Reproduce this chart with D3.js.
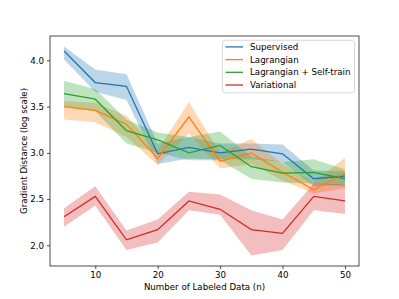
<!DOCTYPE html>
<html>
<head>
<meta charset="utf-8">
<script src="https://cdn.jsdelivr.net/npm/d3@7"></script>
<style>
  body { margin: 0; background: #fff; }
  svg { display: block; font-family: "DejaVu Sans", sans-serif; }
</style>
</head>
<body>
<svg id="chart" width="399" height="299"></svg>
<script>
// data
const nLabeled = [5, 10, 15, 20, 25, 30, 35, 40, 45, 50];

const supervised   = [4.10, 3.76, 3.72, 2.99, 3.06, 3.00, 3.04, 2.99, 2.72, 2.75];
const supervisedLo = [4.01, 3.66, 3.57, 2.88, 2.94, 2.93, 2.93, 2.90, 2.64, 2.66];
const supervisedHi = [4.15, 3.90, 3.85, 3.10, 3.17, 3.10, 3.10, 3.09, 2.81, 2.80];

const lagrangian   = [3.50, 3.46, 3.31, 2.94, 3.39, 2.91, 3.00, 2.79, 2.60, 2.78];
const lagrangianLo = [3.36, 3.33, 3.17, 2.87, 3.21, 2.83, 2.88, 2.70, 2.56, 2.62];
const lagrangianHi = [3.56, 3.54, 3.40, 3.03, 3.55, 3.00, 3.15, 2.88, 2.68, 2.95];

const selfTrain    = [3.64, 3.58, 3.24, 3.14, 3.00, 3.08, 2.85, 2.78, 2.79, 2.72];
const selfTrainLo  = [3.50, 3.45, 3.10, 3.00, 2.92, 2.92, 2.72, 2.68, 2.67, 2.64];
const selfTrainHi  = [3.78, 3.69, 3.36, 3.22, 3.17, 3.23, 2.96, 2.90, 2.93, 2.82];

const variational   = [2.31, 2.53, 2.06, 2.17, 2.48, 2.39, 2.17, 2.13, 2.53, 2.48];
const variationalLo = [2.20, 2.43, 1.95, 2.03, 2.38, 2.33, 1.89, 1.95, 2.38, 2.34];
const variationalHi = [2.40, 2.64, 2.16, 2.28, 2.58, 2.55, 2.38, 2.28, 2.67, 2.66];

const seriesNames = ["Supervised", "Lagrangian", "Lagrangian + Self-train", "Variational"];
const xTicks = [10, 20, 30, 40, 50];
const yTicks = [2.0, 2.5, 3.0, 3.5, 4.0];

const series = [
    {name: seriesNames[0], mid: supervised,  lo: supervisedLo,  hi: supervisedHi,  color: "#1f77b4"},
    {name: seriesNames[1], mid: lagrangian,  lo: lagrangianLo,  hi: lagrangianHi,  color: "#ff7f0e"},
    {name: seriesNames[2], mid: selfTrain,   lo: selfTrainLo,   hi: selfTrainHi,   color: "#2ca02c"},
    {name: seriesNames[3], mid: variational, lo: variationalLo, hi: variationalHi, color: "#d62728"}
];

const width = 399, height = 299;
const margin = {left: 50, right: 40, top: 36, bottom: 33};
const fs = 8.66;

const svg = d3.select("#chart");

// matplotlib-style 5% padding
const xMin = d3.min(nLabeled), xMax = d3.max(nLabeled);
const xPad = (xMax - xMin) * 0.05;
const yMin = d3.min(series, s => d3.min(s.lo)), yMax = d3.max(series, s => d3.max(s.hi));
const yPad = (yMax - yMin) * 0.05;

const x = d3.scaleLinear()
    .domain([xMin - xPad, xMax + xPad])
    .range([margin.left, width - margin.right]);
const y = d3.scaleLinear()
    .domain([yMin - yPad, yMax + yPad])
    .range([height - margin.bottom, margin.top]);

const plot = svg.append("g");

const area = d3.area()
    .x((d, i) => x(nLabeled[i]))
    .y0(d => y(d[0]))
    .y1(d => y(d[1]));
const line = d3.line()
    .x((d, i) => x(nLabeled[i]))
    .y(d => y(d));

// bands first, then lines (like fill_between then plot order)
series.forEach(s => {
    plot.append("path")
        .datum(s.lo.map((v, i) => [v, s.hi[i]]))
        .attr("d", area)
        .attr("fill", s.color)
        .attr("fill-opacity", 0.3)
        .attr("stroke", "none");
});
series.forEach(s => {
    plot.append("path")
        .datum(s.mid)
        .attr("d", line)
        .attr("fill", "none")
        .attr("stroke", s.color)
        .attr("stroke-width", 1.3)
        .attr("stroke-linejoin", "miter");
});

// axes
const xAxis = svg.append("g")
    .attr("transform", "translate(0," + (height - margin.bottom) + ")")
    .call(d3.axisBottom(x).tickValues(xTicks).tickFormat(d3.format("d")).tickSize(3).tickPadding(3));
const yAxis = svg.append("g")
    .attr("transform", "translate(" + margin.left + ",0)")
    .call(d3.axisLeft(y).tickValues(yTicks).tickFormat(d3.format(".1f")).tickSize(3).tickPadding(3));

[xAxis, yAxis].forEach(a => {
    a.select(".domain").remove();
    a.selectAll(".tick line").attr("stroke", "#000").attr("stroke-width", 0.7);
    a.selectAll(".tick text")
        .attr("fill", "#000")
        .style("font-size", fs + "px")
        .style("font-family", "DejaVu Sans");
});

// frame
svg.append("rect")
    .attr("x", margin.left)
    .attr("y", margin.top)
    .attr("width", width - margin.left - margin.right)
    .attr("height", height - margin.top - margin.bottom)
    .attr("fill", "none")
    .attr("stroke", "#000")
    .attr("stroke-width", 0.7);

// labels
svg.append("text")
    .attr("x", (margin.left + width - margin.right) / 2)
    .attr("y", 290)
    .attr("text-anchor", "middle")
    .style("font-size", fs + "px")
    .text("Number of Labeled Data (n)");
svg.append("text")
    .attr("transform", "translate(27," + ((margin.top + height - margin.bottom) / 2) + ") rotate(-90)")
    .attr("text-anchor", "middle")
    .style("font-size", fs + "px")
    .text("Gradient Distance (log scale)");

// legend
const legX = 222.5, legY = 40.3, legW = 132, legH = 52.5;
const legend = svg.append("g");
legend.append("rect")
    .attr("x", legX)
    .attr("y", legY)
    .attr("width", legW)
    .attr("height", legH)
    .attr("rx", 2.5)
    .attr("fill", "#fff")
    .attr("fill-opacity", 0.8)
    .attr("stroke", "#d0d0d0")
    .attr("stroke-width", 0.8);

const rowH = 12.7;
legend.selectAll("g.item")
    .data(series)
    .join("g")
        .attr("class", "item")
        .attr("transform", (d, i) => "translate(" + legX + "," + (legY + 6.6 + i * rowH) + ")")
        .each(function(d) {
            const g = d3.select(this);
            g.append("line")
                .attr("x1", 3)
                .attr("x2", 20.5)
                .attr("stroke", d.color)
                .attr("stroke-width", 1.3);
            g.append("text")
                .attr("x", 27.5)
                .attr("dy", "0.35em")
                .style("font-size", fs + "px")
                .text(d.name);
        });
</script>
</body>
</html>
